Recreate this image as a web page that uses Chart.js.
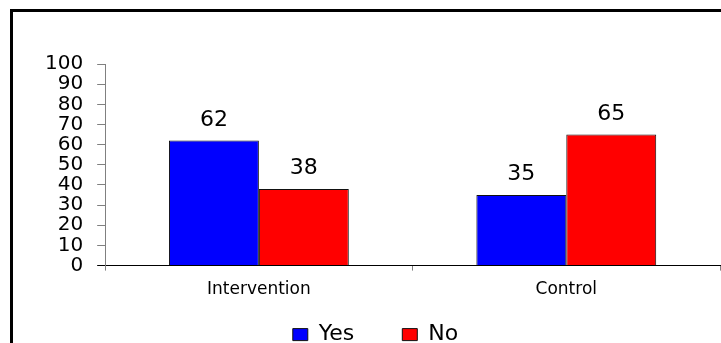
<!DOCTYPE html>
<html lang="en">
<head>
  <meta charset="UTF-8"/>
  <title>Intervention vs Control</title>
  <script src="https://cdn.jsdelivr.net/npm/chart.js"></script>
  <style>
    body { margin: 0; background: #fff; }
    .wrap { position: relative; width: 721px; height: 343px; }
    .frame {
      position: absolute; left: 10px; top: 9px; right: -5px; bottom: -5px;
      border-top: 3px solid #000; border-left: 3px solid #000;
      pointer-events: none;
    }
  </style>
</head>
<body>
  <div class="wrap">
    <canvas id="chart" width="721" height="343"></canvas>
    <div class="frame"></div>
  </div>
  <script>
    const groups = ['Intervention', 'Control'];
    const yesValues = [62, 35];
    const noValues = [38, 65];
    const yTicks = [0, 10, 20, 30, 40, 50, 60, 70, 80, 90, 100];

    // draws the value above each bar
    const valueLabels = {
      id: 'valueLabels',
      afterDatasetsDraw(chart) {
        const ctx = chart.ctx;
        ctx.save();
        ctx.font = '22px "DejaVu Sans"';
        ctx.fillStyle = '#000';
        ctx.textAlign = 'center';
        ctx.textBaseline = 'alphabetic';
        chart.data.datasets.forEach((ds, i) => {
          chart.getDatasetMeta(i).data.forEach((bar, j) => {
            ctx.fillText(ds.data[j], bar.x, bar.y - 15);
          });
        });
        ctx.restore();
      }
    };

    // legend padding also spaces the items apart, so pull the row back up
    // and let its box run to the bottom of the canvas (it clips to that box)
    const legendNudge = {
      id: 'legendNudge',
      afterLayout(chart) {
        chart.legend.top = chart.chartArea.bottom + 10;
        chart.legend.bottom = chart.height;
      }
    };

    new Chart(document.getElementById('chart'), {
      type: 'bar',
      data: {
        labels: groups,
        datasets: [
          { label: 'Yes', data: yesValues, backgroundColor: '#0000ff', borderColor: '#111', borderWidth: 1 },
          { label: 'No', data: noValues, backgroundColor: '#ff0000', borderColor: '#111', borderWidth: 1 }
        ]
      },
      options: {
        responsive: false,
        animation: false,
        layout: { padding: { top: 64, left: 31, right: 1, bottom: -6 } },
        datasets: { bar: { categoryPercentage: 0.585, barPercentage: 1 } },
        plugins: {
          legend: {
            position: 'bottom',
            maxHeight: 40,
            labels: {
              color: '#000',
              font: { family: 'DejaVu Sans', size: 22 },
              boxWidth: 15, boxHeight: 12, padding: 48
            }
          },
          tooltip: { enabled: false }
        },
        scales: {
          x: {
            grid: { offset: true, drawOnChartArea: false, tickLength: 5, color: '#808080' },
            border: { color: '#000', width: 1 },
            ticks: { color: '#000', font: { family: 'DejaVu Sans', size: 17 }, padding: 9 }
          },
          y: {
            min: 0, max: 100,
            afterBuildTicks: s => { s.ticks = yTicks.map(v => ({ value: v })); },
            grid: {
              drawOnChartArea: false, tickLength: 8,
              color: c => (c.tick && c.tick.value === 0 ? '#000' : '#808080')
            },
            border: { color: '#808080', width: 1 },
            ticks: { color: '#000', font: { family: 'DejaVu Sans', size: 20 }, padding: 14, autoSkip: false }
          }
        }
      },
      plugins: [valueLabels, legendNudge]
    });
  </script>
</body>
</html>
